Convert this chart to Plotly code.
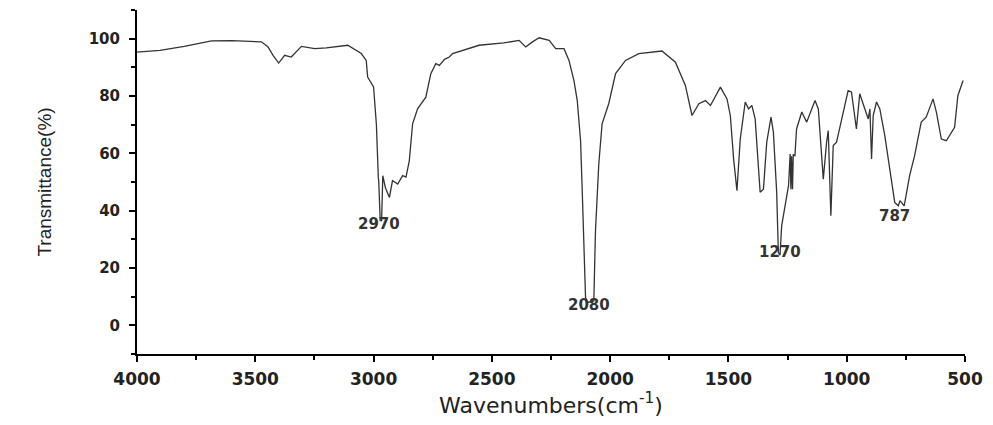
import plotly.graph_objects as go

# ---- data ----
wavenumber = [4000, 3903, 3800, 3685, 3600, 3474, 3446, 3425, 3401, 3376, 3348, 3305, 3249, 3200,
              3109, 3052, 3031, 3025, 3000, 2988, 2980, 2978, 2972, 2966, 2961, 2950, 2933, 2920,
              2898, 2877, 2863, 2849, 2835, 2814, 2779, 2758, 2737, 2722, 2700, 2680, 2666, 2600,
              2554, 2450, 2385, 2357, 2330, 2300, 2258, 2230, 2195, 2174, 2153, 2139, 2125, 2118,
              2111, 2104, 2095, 2080, 2069, 2062, 2048, 2034, 2006, 1977, 1935, 1879, 1820, 1781,
              1724, 1682, 1654, 1625, 1597, 1576, 1534, 1506, 1492, 1478, 1464, 1450, 1429, 1415,
              1401, 1387, 1366, 1352, 1338, 1320, 1310, 1296, 1289, 1282, 1275, 1261, 1246, 1239,
              1236, 1233, 1229, 1226, 1219, 1212, 1190, 1169, 1161, 1134, 1120, 1106, 1099, 1085,
              1078, 1067, 1057, 1043, 1022, 994, 980, 959, 945, 923, 909, 902, 895, 888, 874, 860,
              839, 818, 797, 782, 775, 757, 734, 713, 685, 664, 635, 621, 600, 579, 565, 544, 530, 508]
transmittance = [95.3, 95.9, 97.3, 99.2, 99.3, 98.9, 97.1, 94.2, 91.5, 94.2, 93.6, 97.3, 96.5, 96.8,
                 97.7, 94.8, 92.4, 86.6, 83.2, 70.0, 51.7, 50.0, 36.5, 36.5, 52.2, 48.0, 44.6, 50.5,
                 49.3, 52.2, 51.7, 57.4, 70.3, 75.5, 79.6, 87.8, 91.3, 90.7, 92.8, 93.6, 94.8, 96.5,
                 97.7, 98.5, 99.4, 97.1, 98.8, 100.3, 99.4, 96.5, 96.5, 92.4, 85.4, 78.4, 64.4, 47.0,
                 23.7, 9.7, 8.0, 8.3, 8.5, 33.0, 56.3, 70.3, 77.3, 87.8, 92.4, 94.8, 95.5, 95.7,
                 91.8, 83.7, 73.2, 77.3, 78.4, 76.7, 83.1, 79.0, 73.2, 58.0, 47.0, 65.0, 77.9, 75.5,
                 76.7, 72.0, 46.4, 47.5, 63.9, 72.6, 67.4, 46.4, 25.4, 24.5, 34.7, 41.7, 48.7, 59.8,
                 47.5, 59.0, 47.5, 59.5, 59.2, 68.5, 74.4, 70.9, 72.6, 78.4, 75.5, 59.2, 51.0, 63.9,
                 67.9, 38.2, 62.7, 63.9, 72.0, 81.9, 81.4, 68.5, 80.8, 75.5, 72.0, 75.5, 58.0, 73.2, 77.9, 75.5,
                 66.2, 54.5, 42.9, 41.7, 43.5, 41.7, 52.2, 59.2, 70.9, 72.6, 79.0, 74.4, 65.0, 64.4, 66.2, 69.1, 80.2, 85.4]

peak_labels = ["2970", "2080", "1270", "787"]
peak_label_x = [2975, 2090, 1282, 800]
peak_label_y = [35.3, 7.0, 25.5, 38.0]

x_tick_vals = [4000, 3500, 3000, 2500, 2000, 1500, 1000, 500]
y_tick_vals = [0, 20, 40, 60, 80, 100]

fig = go.Figure()
fig.add_trace(go.Scatter(
    x=wavenumber, y=transmittance, mode="lines",
    line=dict(color="#333333", width=1.3), showlegend=False, hoverinfo="x+y"))

for txt, px, py in zip(peak_labels, peak_label_x, peak_label_y):
    fig.add_annotation(x=px, y=py, text=txt, showarrow=False, xref="x", yref="y",
                       font=dict(family="DejaVu Sans", size=15, color="#333333", weight="bold"))

fig.update_layout(
    width=993, height=425,
    margin=dict(l=137, r=26, t=10, b=71),
    paper_bgcolor="white", plot_bgcolor="white",
    xaxis=dict(range=[4000, 500], tickvals=x_tick_vals, ticktext=[str(v) for v in x_tick_vals],
               showgrid=False, zeroline=False, showline=True, linecolor="black", linewidth=2,
               ticks="outside", ticklen=6, tickwidth=2, tickcolor="black",
               minor=dict(dtick=250, ticks="outside", ticklen=4, tickwidth=2, tickcolor="black", showgrid=False),
               tickfont=dict(family="DejaVu Sans", size=17, color="#222222", weight="bold"),
               ticklabelstandoff=3,
               title=dict(text="Wavenumbers(cm<sup>-1</sup>)", standoff=6,
                          font=dict(family="DejaVu Sans", size=22, color="#222222"))),
    yaxis=dict(range=[-10, 110], tickvals=y_tick_vals, ticktext=[str(v) for v in y_tick_vals],
               showgrid=False, zeroline=False, showline=True, linecolor="black", linewidth=2,
               ticks="outside", ticklen=6, tickwidth=2, tickcolor="black",
               minor=dict(dtick=10, tick0=0, ticks="outside", ticklen=4, tickwidth=2, tickcolor="black", showgrid=False),
               tickfont=dict(family="DejaVu Sans", size=15, color="#222222", weight="bold"),
               ticklabelstandoff=6,
               title=dict(text="Transmittance(%)", standoff=32,
                          font=dict(family="Liberation Sans Narrow, Liberation Sans, sans-serif", size=19, color="#222222"))),
)

fig.write_html("out.html")
